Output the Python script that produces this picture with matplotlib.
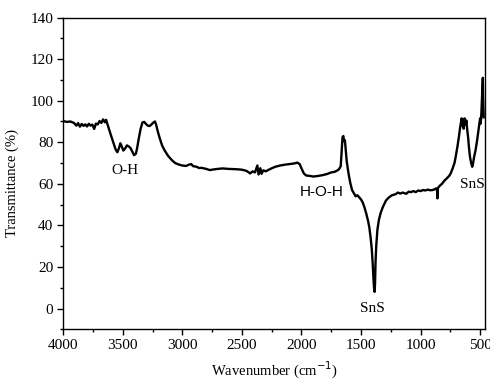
import matplotlib
matplotlib.use("Agg")
import matplotlib.pyplot as plt
from matplotlib.ticker import MultipleLocator

wavenumber = [
    4000, 3970, 3940, 3910, 3890, 3875, 3860, 3845, 3830, 3815, 3800, 3785, 3770, 3755,
    3740, 3725, 3710, 3695, 3680, 3665, 3650, 3640, 3625, 3600, 3580, 3560, 3545, 3530,
    3520, 3505, 3495, 3480, 3465, 3450, 3435, 3420, 3405, 3390, 3380, 3365, 3350, 3335,
    3320, 3305, 3290, 3275, 3260, 3245, 3230, 3220, 3205, 3190, 3170, 3150, 3120, 3090,
    3060, 3030, 3000, 2970, 2940, 2925, 2910, 2880, 2860, 2840, 2800, 2770, 2740, 2700,
    2660, 2620, 2580, 2540, 2500, 2460, 2430, 2410, 2390, 2370, 2360, 2345, 2335, 2320,
    2300, 2260, 2220, 2180, 2140, 2100, 2060, 2035, 2015, 2000, 1980, 1960, 1930, 1900,
    1870, 1850, 1820, 1800, 1780, 1760, 1740, 1720, 1700, 1685, 1670, 1662, 1655, 1648,
    1642, 1635, 1628, 1620, 1610, 1600, 1590, 1575, 1560, 1545, 1530, 1515, 1500, 1485,
    1470, 1455, 1440, 1430, 1420, 1410, 1402, 1395, 1390, 1386, 1382, 1378, 1372, 1362,
    1350, 1335, 1315, 1290, 1265, 1240, 1210, 1190, 1170, 1150, 1120, 1100, 1080, 1060,
    1040, 1020, 1000, 980, 960, 940, 920, 900, 880, 870, 862, 858, 854, 840,
    820, 800, 780, 760, 747, 730, 715, 705, 690, 678, 668, 660, 655, 650,
    645, 638, 630, 622, 615, 608, 600, 594, 585, 575, 566, 560, 550, 538,
    525, 510, 500, 495, 490, 485, 480, 477, 474, 470,
]
transmittance = [
    90.2, 89.8, 90.0, 89.3, 88.0, 89.2, 87.5, 88.8, 87.9, 88.6, 87.6, 88.9, 88.0, 88.5,
    86.4, 89.0, 88.6, 90.2, 89.3, 91.0, 89.6, 90.8, 88.0, 83.5, 80.0, 76.5, 75.2, 77.5,
    79.5, 77.5, 76.0, 77.0, 78.5, 78.0, 77.2, 75.5, 73.8, 74.5, 77.0, 82.0, 86.5, 89.5,
    89.8, 88.8, 88.0, 87.8, 88.5, 89.4, 90.0, 88.5, 85.0, 82.0, 78.5, 76.2, 73.5, 71.5,
    70.0, 69.3, 68.8, 68.6, 69.3, 69.5, 68.5, 68.2, 67.6, 67.7, 67.2, 66.6, 66.9, 67.2,
    67.4, 67.2, 67.1, 67.0, 66.8, 66.2, 65.0, 66.0, 65.5, 68.8, 64.5, 67.5, 64.8, 66.5,
    66.0, 67.2, 68.2, 68.8, 69.2, 69.5, 69.8, 70.2, 69.5, 67.5, 65.0, 64.0, 63.8, 63.5,
    63.7, 63.9, 64.2, 64.5, 64.8, 65.3, 65.6, 65.8, 66.4, 67.0, 68.5, 76.0, 82.5, 83.0,
    80.5, 81.0, 76.5, 71.0, 67.0, 63.5, 60.5, 57.0, 55.5, 54.0, 54.5, 53.5, 52.5, 51.0,
    48.5, 45.5, 42.0, 39.0, 34.5, 29.0, 22.0, 14.0, 9.5, 8.0, 12.0, 22.0, 30.0, 38.0,
    42.5, 46.0, 49.0, 52.0, 53.5, 54.5, 55.0, 55.8, 55.3, 55.8, 55.2, 56.2, 56.0, 56.5,
    56.0, 56.8, 56.5, 57.0, 56.8, 57.2, 56.9, 57.0, 57.4, 57.8, 57.5, 53.0, 58.0, 59.0,
    60.0, 61.5, 62.6, 63.8, 65.0, 67.5, 70.0, 73.0, 78.0, 82.6, 87.0, 89.8, 91.5, 88.0,
    91.0, 86.5, 91.5, 88.5, 90.5, 86.0, 82.0, 77.8, 73.0, 70.0, 68.2, 69.5, 73.0, 76.2,
    81.0, 87.4, 91.5, 89.0, 93.0, 100.0, 108.0, 111.0, 100.0, 92.0,
]

annot_text = ["O-H", "H-O-H", "SnS", "SnS"]
annot_x = [3483, 1833, 1406, 564]
annot_y = [66.6, 56.0, 0.1, 59.8]
annot_family = ["Liberation Serif", "Liberation Sans", "Liberation Serif", "Liberation Serif"]

plt.rcParams['font.family'] = ['Liberation Serif', 'DejaVu Serif']

fig = plt.figure(figsize=(4.9, 3.82), dpi=100)
ax = fig.add_axes([0.129, 0.138, 0.861, 0.816])
ax.plot(wavenumber, transmittance, color='black', lw=1.7)

ax.set_xlim(4000, 458)
ax.set_ylim(-10, 140)
ax.xaxis.set_major_locator(MultipleLocator(500))
ax.xaxis.set_minor_locator(MultipleLocator(250))
ax.yaxis.set_major_locator(MultipleLocator(20))
ax.yaxis.set_minor_locator(MultipleLocator(10))
ax.tick_params(which='major', direction='out', length=4, width=1, labelsize=11,
               colors='black', pad=3)
ax.tick_params(which='minor', direction='out', length=2.5, width=1)
for s in ax.spines.values():
    s.set_linewidth(1.0)

ax.set_xlabel('Wavenumber (cm$^{-1}$)', fontsize=10.5, labelpad=6)
ax.set_ylabel('Transmittance (%)', fontsize=10.5)
ax.yaxis.set_label_coords(-0.105, 0.469)

for t, x, y, f in zip(annot_text, annot_x, annot_y, annot_family):
    ax.text(x, y, t, fontsize=11, family=f, ha='center', va='center')

fig.savefig('out.png', dpi=100)
